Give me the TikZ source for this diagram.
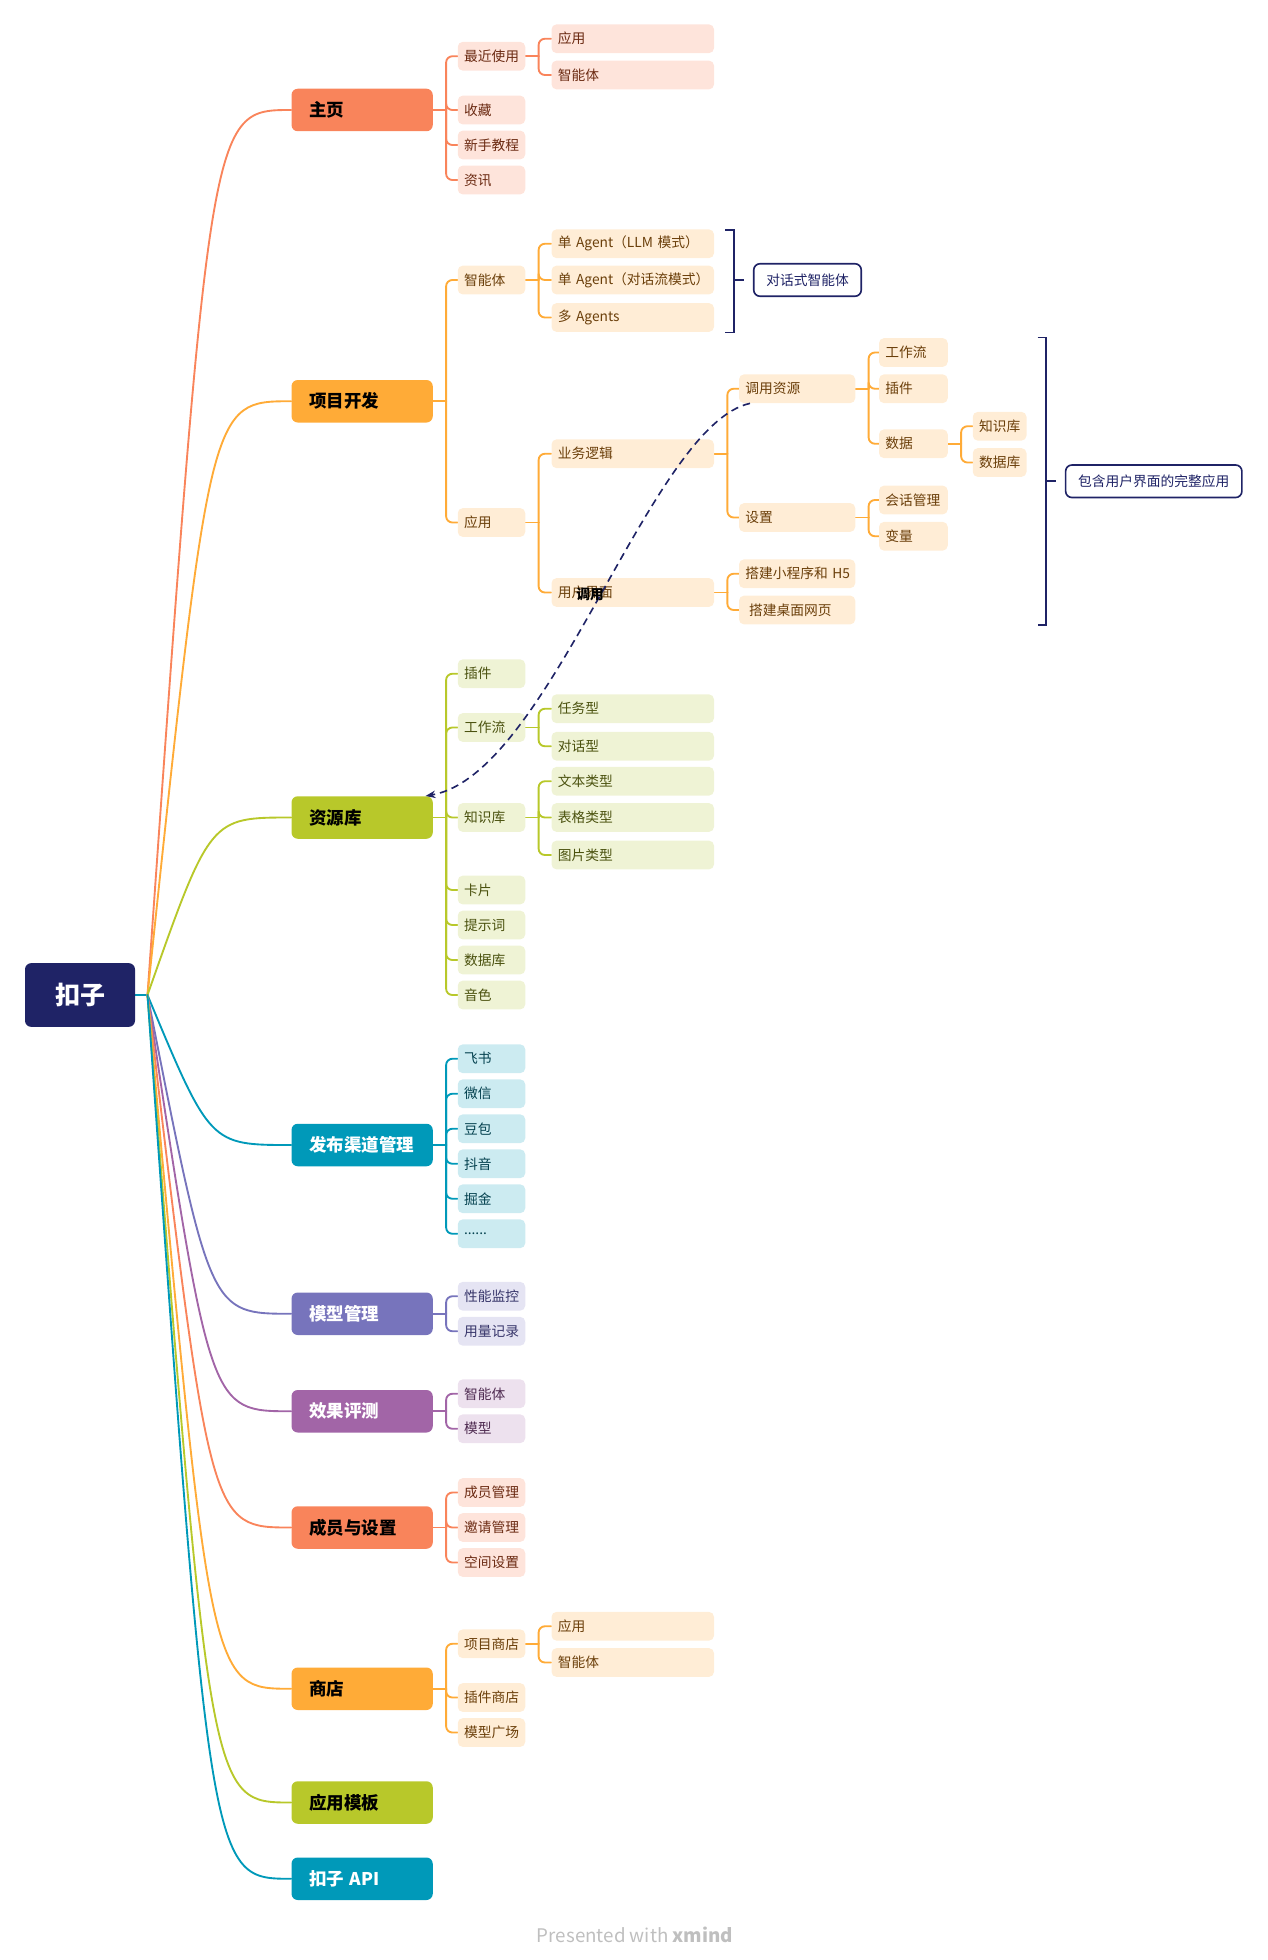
\documentclass[tikz,border=0pt]{standalone}
\usepackage{fontspec}
\setmainfont{Noto Sans CJK SC}
\usetikzlibrary{arrows.meta, backgrounds}

\definecolor{navy}{HTML}{1F2366}
\definecolor{salmon}{HTML}{F9845B}
\definecolor{salmonbg}{HTML}{FEE4DB}
\definecolor{salmontx}{HTML}{6B2A12}
\definecolor{amber}{HTML}{FFAB37}
\definecolor{amberbg}{HTML}{FFEDD6}
\definecolor{ambertx}{HTML}{6B3F0A}
\definecolor{leaf}{HTML}{B8C82A}
\definecolor{leafbg}{HTML}{EFF3D5}
\definecolor{leaftx}{HTML}{4B520F}
\definecolor{sea}{HTML}{0099B9}
\definecolor{seabg}{HTML}{CCEBF1}
\definecolor{seatx}{HTML}{04414F}
\definecolor{iris}{HTML}{7774BC}
\definecolor{irisbg}{HTML}{E5E4F3}
\definecolor{iristx}{HTML}{37356A}
\definecolor{plum}{HTML}{A265A7}
\definecolor{plumbg}{HTML}{EDE1EE}
\definecolor{plumtx}{HTML}{4E2A50}

\begin{document}
\begin{tikzpicture}[x=1pt, y=-1pt,
    topic/.style={rounded corners=5pt, minimum height=34pt, text width=85pt, inner xsep=14pt, inner ysep=0pt, anchor=west, font=\bfseries\fontsize{14}{16}\selectfont},
    sub/.style={rounded corners=4pt, minimum height=23pt, text width=44pt, inner xsep=5pt, inner ysep=0pt, anchor=west, font=\fontsize{11}{13}\selectfont},
    wide/.style={text width=120pt},
    mid/.style={text width=83pt},
    small/.style={text width=45pt},
    tiny/.style={text width=33pt},
    homeset/.style={sub, fill=salmonbg, text=salmontx},
    devset/.style={sub, fill=amberbg, text=ambertx},
    libset/.style={sub, fill=leafbg, text=leaftx},
    pubset/.style={sub, fill=seabg, text=seatx},
    modelset/.style={sub, fill=irisbg, text=iristx},
    evalset/.style={sub, fill=plumbg, text=plumtx},
    callout/.style={draw=navy, line width=1.3pt, fill=white, rounded corners=5pt, minimum height=26pt, text=navy, font=\fontsize{11}{13}\selectfont},
    link/.style={line width=1.5pt, rounded corners=5pt, line cap=round},
    summary/.style={navy, line width=1.3pt}
  ]

    \useasboundingbox (0,0) rectangle (1014,1568);

    % Root
    \node[fill=navy, text=white, rounded corners=5pt, minimum width=88pt, minimum height=51pt, font=\bfseries\fontsize{20}{22}\selectfont] (kouzi) at (64,796) {扣子};
    \coordinate (fork) at (118,796);
    \coordinate (bend) at (168,0);

    % Main topics
    \node[topic, fill=salmon] (home) at (233,88) {主页};
    \node[topic, fill=amber] (dev) at (233,321) {项目开发};
    \node[topic, fill=leaf] (lib) at (233,654) {资源库};
    \node[topic, fill=sea, text=white] (pub) at (233,916) {发布渠道管理};
    \node[topic, fill=iris, text=white] (model) at (233,1051) {模型管理};
    \node[topic, fill=plum, text=white] (eval) at (233,1129) {效果评测};
    \node[topic, fill=salmon] (member) at (233,1222) {成员与设置};
    \node[topic, fill=amber] (store) at (233,1351) {商店};
    \node[topic, fill=leaf] (tmpl) at (233,1442) {应用模板};
    \node[topic, fill=sea, text=white] (api) at (233,1503) {扣子 API};

    % Home
    \node[homeset] (h-recent) at (366,45) {最近使用};
    \node[homeset, wide] (h-app) at (441,31) {应用};
    \node[homeset, wide] (h-agent) at (441,60) {智能体};
    \node[homeset] (h-fav) at (366,88) {收藏};
    \node[homeset] (h-guide) at (366,116) {新手教程};
    \node[homeset] (h-news) at (366,144) {资讯};

    % Project development
    \node[devset] (d-agent) at (366,224) {智能体};
    \node[devset, wide] (d-llm) at (441,195) {单~Agent（LLM~模式）};
    \node[devset, wide] (d-flow) at (441,224) {单~Agent（对话流模式）};
    \node[devset, wide] (d-multi) at (441,254) {多~Agents};
    \node[devset] (d-app) at (366,418) {应用};
    \node[devset, wide] (d-logic) at (441,363) {业务逻辑};
    \node[devset, mid] (d-call) at (591,311) {调用资源};
    \node[devset, small] (d-wf) at (703,282) {工作流};
    \node[devset, small] (d-plugin) at (703,311) {插件};
    \node[devset, small] (d-data) at (703,355) {数据};
    \node[devset, tiny] (d-kb) at (778,341) {知识库};
    \node[devset, tiny] (d-db) at (778,370) {数据库};
    \node[devset, mid] (d-set) at (591,414) {设置};
    \node[devset, small] (d-sess) at (703,400) {会话管理};
    \node[devset, small] (d-var) at (703,429) {变量};
    \node[devset, wide] (d-ui) at (441,474) {用户界面};
    \node[devset, mid] (d-mini) at (591,459) {搭建小程序和~H5};
    \node[devset, mid] (d-web) at (591,488) {\hspace{3pt}搭建桌面网页};

    % Summaries
    \node[callout, minimum width=86pt] (d-chat) at (646,224) {对话式智能体};
    \node[callout, minimum width=141pt] (d-full) at (923,385) {包含用户界面的完整应用};
    \draw[summary] (580,184) -- (587,184) -- (587,266) -- (580,266);
    \coordinate (chat-tick) at (595,224);
    \draw[summary] (587,224) -- (chat-tick);
    \draw[summary] (830,270) -- (837,270) -- (837,500) -- (830,500);
    \coordinate (full-tick) at (845,385);
    \draw[summary] (837,385) -- (full-tick);

    % Resource library
    \node[libset] (l-plugin) at (366,539) {插件};
    \node[libset] (l-wf) at (366,582) {工作流};
    \node[libset, wide] (l-task) at (441,567) {任务型};
    \node[libset, wide] (l-dialog) at (441,597) {对话型};
    \node[libset] (l-kb) at (366,654) {知识库};
    \node[libset, wide] (l-text) at (441,625) {文本类型};
    \node[libset, wide] (l-table) at (441,654) {表格类型};
    \node[libset, wide] (l-img) at (441,684) {图片类型};
    \node[libset] (l-card) at (366,712) {卡片};
    \node[libset] (l-prompt) at (366,740) {提示词};
    \node[libset] (l-db) at (366,768) {数据库};
    \node[libset] (l-voice) at (366,796) {音色};

    % Publishing channels
    \node[pubset] (p-feishu) at (366,847) {飞书};
    \node[pubset] (p-wechat) at (366,875) {微信};
    \node[pubset] (p-doubao) at (366,903) {豆包};
    \node[pubset] (p-douyin) at (366,931) {抖音};
    \node[pubset] (p-juejin) at (366,959) {掘金};
    \node[pubset] (p-more) at (366,987) {......};

    % Models and evaluation
    \node[modelset] (m-perf) at (366,1037) {性能监控};
    \node[modelset] (m-usage) at (366,1065) {用量记录};
    \node[evalset] (e-agent) at (366,1115) {智能体};
    \node[evalset] (e-model) at (366,1143) {模型};

    % Members and settings
    \node[homeset] (s-member) at (366,1194) {成员管理};
    \node[homeset] (s-invite) at (366,1222) {邀请管理};
    \node[homeset] (s-space) at (366,1250) {空间设置};

    % Store
    \node[devset] (t-proj) at (366,1315) {项目商店};
    \node[devset, wide] (t-app) at (441,1301) {应用};
    \node[devset, wide] (t-agent) at (441,1330) {智能体};
    \node[devset] (t-plugin) at (366,1358) {插件商店};
    \node[devset] (t-square) at (366,1386) {模型广场};

    % Footer
    \node[text=black!25, font=\fontsize{15}{17}\selectfont] (footer) at (508,1548) {Presented with \textbf{xmind}};

    \begin{scope}[on background layer]
        % Root to topics
        \draw[link, sea] (kouzi.east) -- (fork);
        \foreach \t/\c in {home/salmon, dev/amber, lib/leaf, pub/sea, model/iris, eval/plum, member/salmon, store/amber, tmpl/leaf, api/sea}
            \draw[link, \c] (fork) .. controls (\t.west -| bend) .. (\t.west);

        % Topic branches
        \foreach \p in {home, h-recent, member}
            \draw[link, salmon] (\p.east) -- ++(10.5,0);
        \foreach \p/\c in {home/h-recent, home/h-fav, home/h-guide, home/h-news, h-recent/h-app, h-recent/h-agent, member/s-member, member/s-invite, member/s-space}
            \draw[link, salmon] ([xshift=10.5pt]\p.east) |- (\c.west);

        \foreach \p in {dev, d-agent, d-app, d-logic, d-call, d-data, d-set, d-ui, store, t-proj}
            \draw[link, amber] (\p.east) -- ++(10.5,0);
        \foreach \p/\c in {dev/d-agent, dev/d-app, d-agent/d-llm, d-agent/d-flow, d-agent/d-multi, d-app/d-logic, d-app/d-ui, d-logic/d-call, d-logic/d-set, d-call/d-wf, d-call/d-plugin, d-call/d-data, d-data/d-kb, d-data/d-db, d-set/d-sess, d-set/d-var, d-ui/d-mini, d-ui/d-web, store/t-proj, store/t-plugin, store/t-square, t-proj/t-app, t-proj/t-agent}
            \draw[link, amber] ([xshift=10.5pt]\p.east) |- (\c.west);

        \foreach \p in {lib, l-wf, l-kb}
            \draw[link, leaf] (\p.east) -- ++(10.5,0);
        \foreach \p/\c in {lib/l-plugin, lib/l-wf, lib/l-kb, lib/l-card, lib/l-prompt, lib/l-db, lib/l-voice, l-wf/l-task, l-wf/l-dialog, l-kb/l-text, l-kb/l-table, l-kb/l-img}
            \draw[link, leaf] ([xshift=10.5pt]\p.east) |- (\c.west);

        \draw[link, sea] (pub.east) -- ++(10.5,0);
        \foreach \c in {p-feishu, p-wechat, p-doubao, p-douyin, p-juejin, p-more}
            \draw[link, sea] ([xshift=10.5pt]pub.east) |- (\c.west);

        \draw[link, iris] (model.east) -- ++(10.5,0);
        \foreach \c in {m-perf, m-usage}
            \draw[link, iris] ([xshift=10.5pt]model.east) |- (\c.west);

        \draw[link, plum] (eval.east) -- ++(10.5,0);
        \foreach \c in {e-agent, e-model}
            \draw[link, plum] ([xshift=10.5pt]eval.east) |- (\c.west);
    \end{scope}

    % Call relation
    \draw[navy, line width=1.3pt, dash pattern=on 6pt off 4pt, -{Stealth[length=8pt, width=6pt]}]
        ([xshift=9pt]d-call.south west) .. controls (520,340) and (440,620) .. ([xshift=-6pt]lib.north east)
        node[pos=0.49, xshift=-8pt, text=black, font=\bfseries\fontsize{11}{13}\selectfont] (call-label) {调用};

\end{tikzpicture}
\end{document}
